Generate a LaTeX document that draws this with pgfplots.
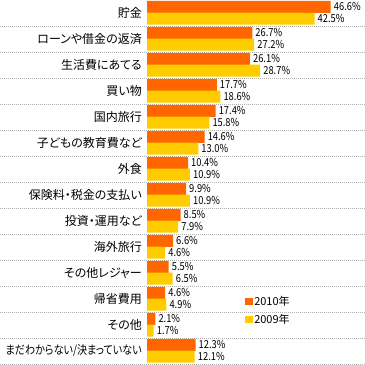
\documentclass[border=0pt]{standalone}
\usepackage{fontspec}
\setmainfont{Noto Sans CJK JP}[RawFeature={+palt}]
\newfontfamily\numfont{Noto Sans CJK JP}[FakeStretch=0.85]
\newfontfamily\narrowfont{Noto Sans CJK JP}[RawFeature={+palt}, FakeStretch=0.84]
\usepackage{pgfplots}
\pgfplotsset{compat=1.18}
\definecolor{cA}{HTML}{FF6600}
\definecolor{cB}{HTML}{FFCC00}
\begin{document}
\begin{tikzpicture}
\begin{axis}[
 scale only axis, width=365pt, height=365pt,
 xmin=-37.3, xmax=55.3, ymin=-0.5, ymax=13.538,
 enlargelimits=false,
 y dir=reverse,
 axis line style={draw=none},
 xtick=\empty,
 ytick={0,...,13},
 yticklabels={貯金, ローンや借金の返済, 生活費にあてる, 買い物, 国内旅行, 子どもの教育費など, 外食, 保険料・税金の支払い, 投資・運用など, 海外旅行, その他レジャー, 帰省費用, その他, {\narrowfont まだわからない/決まっていない}},
 yticklabel style={anchor=east, inner sep=0pt, xshift=142pt, font=\fontsize{12}{12}\selectfont},
 major tick length=0pt, minor tick length=0pt,
 minor ytick={0.5,1.5,2.5,3.5,4.5,5.5,6.5,7.5,8.5,9.5,10.5,11.5,12.5,13.5},
 yminorgrids, minor grid style={gray!60, dash pattern=on 1pt off 1pt},
 xbar, bar width=12pt, bar shift=0pt,
 /pgf/number format/assume math mode=true,
 nodes near coords={\pgfmathprintnumber[fixed,precision=1,zerofill]{\pgfplotspointmeta}\%},
 every node near coord/.append style={anchor=west, font=\numfont\fontsize{11}{11}\selectfont, inner sep=0pt, xshift=3pt},
 clip=false,
 legend image code/.code={\fill[#1] (0pt,-3.5pt) rectangle (8pt,3.5pt);},
 legend style={draw=none, fill=none, inner sep=0pt, at={(axis cs:24.87,10.85)}, anchor=north west,
   row sep=5pt, nodes={inner sep=1pt, anchor=west, font=\fontsize{11}{11}\selectfont},
   /tikz/every even column/.append style={column sep=1pt}},
]
\addplot[draw=none, fill=cA] coordinates {
(46.6,-0.24) (26.7,0.76) (26.1,1.76) (17.7,2.76) (17.4,3.76) (14.6,4.76) (10.4,5.76)
(9.9,6.76) (8.5,7.76) (6.6,8.76) (5.5,9.76) (4.6,10.76) (2.1,11.76) (12.3,12.76)};
\addlegendentry{2010年}
\addplot[draw=none, fill=cB] coordinates {
(42.5,0.22) (27.2,1.22) (28.7,2.22) (18.6,3.22) (15.8,4.22) (13.0,5.22) (10.9,6.22)
(10.9,7.22) (7.9,8.22) (4.6,9.22) (6.5,10.22) (4.9,11.22) (1.7,12.22) (12.1,13.22)};
\addlegendentry{2009年}
\end{axis}
\pgfresetboundingbox
\path (0,0) rectangle (365pt,365pt);
\end{tikzpicture}
\end{document}
